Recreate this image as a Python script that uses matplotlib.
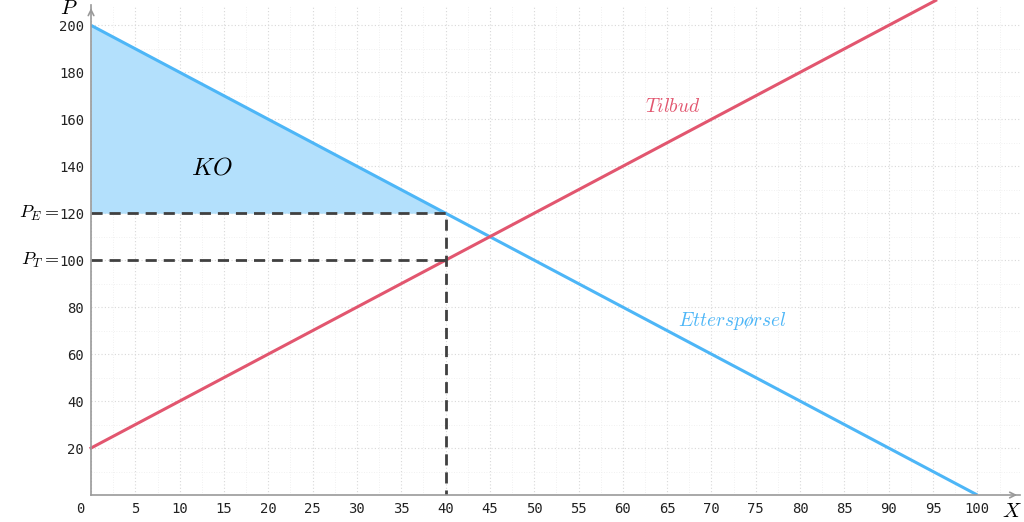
import numpy as np
import matplotlib.pyplot as plt
import matplotlib.transforms as mtransforms
from matplotlib.ticker import MultipleLocator

plt.rcParams['mathtext.fontset'] = 'cm'

# Etterspørsel og tilbud (lineære)
x_ett = [0, 100]
p_ett = [200, 0]
x_tilb = [0, 95.3]
p_tilb = [20, 210.6]

x_kvote = 40
p_e = 120
p_t = 100

x_ticks = [0, 5, 10, 15, 20, 25, 30, 35, 40, 45, 50, 55, 60, 65, 70, 75, 80, 85, 90, 95, 100]
y_ticks = [20, 40, 60, 80, 100, 120, 140, 160, 180, 200]

blaa = '#4db6f7'
roed = '#e2566f'

fig = plt.figure(figsize=(10.24, 5.22), dpi=100)
ax = fig.add_axes([0.0889, 0.0517, 0.9071, 0.938])

# konsumentoverskudd
ax.fill_between([0, x_kvote], [p_ett[0], p_e], [p_e, p_e], color='#b3e0fc', lw=0)

ax.plot(x_ett, p_ett, color=blaa, lw=2.2, solid_capstyle='butt')
ax.plot(x_tilb, p_tilb, color=roed, lw=2.2, clip_on=False)

ax.plot([0, x_kvote, x_kvote], [p_e, p_e, 0], color='#404040', lw=2, ls=(0, (4, 2.5)))
ax.plot([0, x_kvote], [p_t, p_t], color='#404040', lw=2, ls=(0, (4, 2.5)))

ax.text(13.6, 139.6, r'$KO$', fontsize=18, ha='center', va='center')
ax.text(65.6, 165.5, r'$Tilbud$', fontsize=14, color=roed, ha='center', va='center')
ax.text(72.4, 74, r'$Etterspørsel$', fontsize=14, color=blaa, ha='center', va='center')

ax.set_xlim(0, 104.8)
ax.set_ylim(0, 208.5)

ax.set_xticks(x_ticks)
ax.set_yticks(y_ticks)
ax.xaxis.set_minor_locator(MultipleLocator(2.5))
ax.yaxis.set_minor_locator(MultipleLocator(10))
ax.tick_params(which='both', length=0, labelsize=10)
ax.tick_params(axis='x', pad=5)
ax.tick_params(axis='y', pad=5)
for lab in ax.get_xticklabels() + ax.get_yticklabels():
    lab.set_family('DejaVu Sans Mono')
    lab.set_color('#222222')
# "0" litt til venstre for origo
null = ax.get_xticklabels()[0]
null.set_transform(null.get_transform() + mtransforms.ScaledTranslation(-0.11, 0, fig.dpi_scale_trans))

# P_E og P_T foran tallene
ytr = ax.get_yaxis_transform()
ax.text(-0.0344, p_e, r'$P_E=$', transform=ytr, ha='right', va='center', fontsize=13)
ax.text(-0.0344, p_t, r'$P_T=$', transform=ytr, ha='right', va='center', fontsize=13)

ax.grid(True, which='major', color='#d8d8d8', lw=0.8, ls=(0, (1, 2)))
ax.grid(True, which='minor', color='#ececec', lw=0.6, ls=(0, (1, 2)))
ax.set_axisbelow(True)

for s in ['top', 'right']:
    ax.spines[s].set_visible(False)
for s in ['left', 'bottom']:
    ax.spines[s].set_color('#999999')
    ax.spines[s].set_linewidth(1.2)

# piler på aksene
ax.annotate('', xy=(1.0, 0), xytext=(0.99, 0), xycoords='axes fraction',
            arrowprops=dict(arrowstyle='->', color='#999999', lw=1.2))
ax.annotate('', xy=(0, 1.0), xytext=(0, 0.98), xycoords='axes fraction',
            arrowprops=dict(arrowstyle='->', color='#999999', lw=1.2))

fig.text(69 / 1024, 1 - 8 / 522, r'$P$', fontsize=15, ha='center', va='center')
fig.text(1012 / 1024, 1 - 511 / 522, r'$X$', fontsize=15, ha='center', va='center')

plt.savefig('out.png', dpi=100)
